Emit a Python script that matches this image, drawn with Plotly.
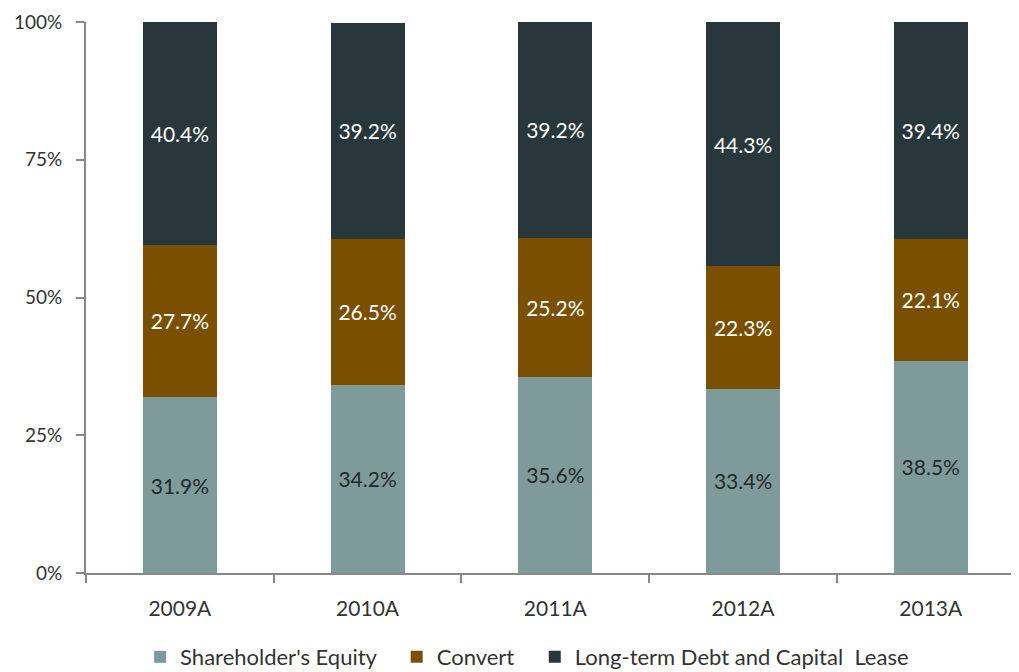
import plotly.graph_objects as go

years = ["2009A", "2010A", "2011A", "2012A", "2013A"]
equity = [31.9, 34.2, 35.6, 33.4, 38.5]
convert = [27.7, 26.5, 25.2, 22.3, 22.1]
debt = [40.4, 39.2, 39.2, 44.3, 39.4]
y_ticks = [0, 25, 50, 75, 100]
y_tick_labels = ["0%", "25%", "50%", "75%", "100%"]

series = [
    ("Shareholder's Equity", equity, "#7f9a9a", "#1f2a2c", "legend", 0.058),
    ("Convert", convert, "#7a4f00", "#ffffff", "legend2", 0.333),
    ("Long-term Debt and Capital  Lease", debt, "#27373b", "#ffffff", "legend3", 0.481),
]

FONT = "Lato, sans-serif"

fig = go.Figure()
legends = {}
for name, vals, color, tcolor, leg, lx in series:
    fig.add_trace(go.Bar(
        x=years, y=vals, name=name,
        marker=dict(color=color, line=dict(width=0)),
        text=[f"{v:.1f}%" for v in vals],
        textposition="inside", insidetextanchor="middle",
        textfont=dict(color=tcolor, size=21, family=FONT),
        width=0.394,
        legend=leg,
    ))
    legends[leg] = dict(orientation="h", x=lx, xanchor="left", y=-0.1525, yanchor="middle",
                        font=dict(size=22, color="#333333"), bgcolor="rgba(0,0,0,0)")

fig.update_layout(
    barmode="stack",
    width=1011, height=664,
    margin=dict(l=78, r=0, t=14, b=99, autoexpand=False),
    paper_bgcolor="white", plot_bgcolor="white",
    font=dict(family=FONT, color="#333333", size=19),
    showlegend=True,
    **legends,
)
fig.update_yaxes(
    range=[0, 100], tickvals=y_ticks, ticktext=y_tick_labels,
    showline=True, linecolor="#888888", linewidth=2,
    ticks="outside", ticklen=8, tickcolor="#888888", tickwidth=2,
    showgrid=False, zeroline=False, tickfont=dict(size=19, color="#333333"),
    ticklabelstandoff=10,
)
fig.update_xaxes(
    showline=True, linecolor="#888888", linewidth=2,
    ticks="outside", ticklen=8, tickcolor="#888888", tickwidth=2,
    tickson="boundaries", showgrid=False,
    tickfont=dict(size=21, color="#333333"),
    ticklabelstandoff=16,
    range=[-0.5, 4.47],
)

fig.write_html("out.html")
